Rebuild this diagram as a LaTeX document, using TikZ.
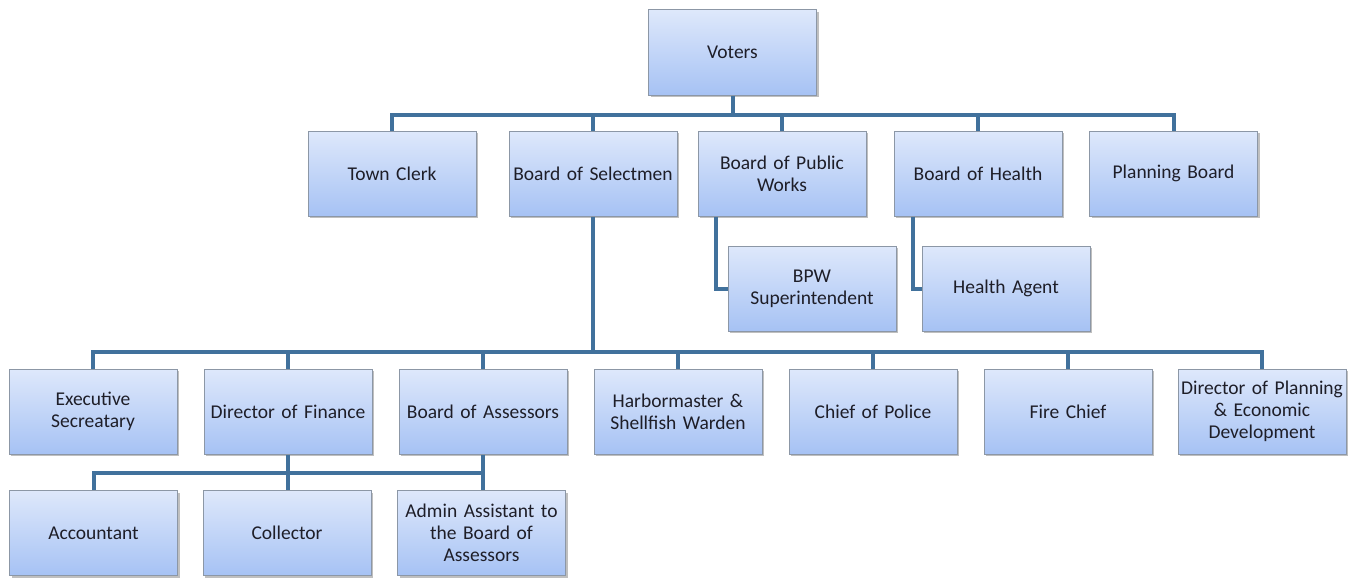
\documentclass[tikz,border=0pt]{standalone}
\usepackage{fontspec}
\setmainfont{Carlito}
\usetikzlibrary{shadows}
\definecolor{linec}{HTML}{41719C}
\definecolor{boxtop}{HTML}{DEE8FB}
\definecolor{boxbot}{HTML}{A6C2F4}
\definecolor{boxdraw}{HTML}{8C97A6}
\definecolor{txt}{HTML}{1E1E28}
\tikzset{
  orgbox/.style={draw=boxdraw, line width=1pt, top color=boxtop, bottom color=boxbot,
    minimum width=168pt, minimum height=85pt, inner sep=0pt, text width=168pt, align=center,
    text=txt, font=\fontsize{19.5}{22}\selectfont,
    drop shadow={shadow xshift=2pt, shadow yshift=-2pt, opacity=0.25, fill=black}},
  conn/.style={draw=linec, line width=4pt}
}
\begin{document}
\begin{tikzpicture}[x=1pt,y=-1pt]
\useasboundingbox (0,0) rectangle (1359,578);
% row 1
\node[orgbox] (vot) at (732.5,52.5) {Voters};
% row 2
\node[orgbox] (tc) at (392,173.5) {Town Clerk};
\node[orgbox] (sel) at (593,173.5) {Board of Selectmen};
\node[orgbox] (bpw) at (782,173.5) {Board of Public\\Works};
\node[orgbox] (boh) at (978,173.5) {Board of Health};
\node[orgbox] (pb) at (1173.5,173.5) {Planning Board};
% row 2b
\node[orgbox] (bpws) at (812,288.5) {BPW\\Superintendent};
\node[orgbox] (ha) at (1006,288.5) {Health Agent};
% row 3
\node[orgbox] (es) at (93,411.5) {Executive\\Secreatary};
\node[orgbox] (fin) at (288,411.5) {Director of Finance};
\node[orgbox] (ass) at (483,411.5) {Board of Assessors};
\node[orgbox] (hm) at (678,411.5) {Harbormaster \&\\Shellfish Warden};
\node[orgbox] (pol) at (873,411.5) {Chief of Police};
\node[orgbox] (fire) at (1068,411.5) {Fire Chief};
\node[orgbox] (dpe) at (1262,411.5) {Director of Planning\\\& Economic\\Development};
% row 4
\node[orgbox] (acc) at (93.5,533) {Accountant};
\node[orgbox] (col) at (287,533) {Collector};
\node[orgbox] (adm) at (481.5,533) {Admin Assistant to\\the Board of\\Assessors};
% connectors
\coordinate (b1) at (732.5,115);
\coordinate (b2) at (593,352);
\coordinate (b3) at (288,473);
\draw[conn] (vot.south) -- (b1) -| (tc.north);
\draw[conn] (b1) -| (sel.north);
\draw[conn] (b1) -| (bpw.north);
\draw[conn] (b1) -| (boh.north);
\draw[conn] (b1) -| (pb.north);
\draw[conn] ([xshift=18pt]bpw.south west) |- (bpws.west);
\draw[conn] ([xshift=19pt]boh.south west) |- (ha.west);
\draw[conn] (sel.south) -- (b2) -| (es.north);
\draw[conn] (b2) -| (fin.north);
\draw[conn] (b2) -| (ass.north);
\draw[conn] (b2) -| (hm.north);
\draw[conn] (b2) -| (pol.north);
\draw[conn] (b2) -| (fire.north);
\draw[conn] (b2) -| (dpe.north);
\draw[conn] (fin.south) -- (fin.south |- col.north);
\draw[conn] (ass.south) -- (ass.south |- adm.north);
\draw[conn] (acc.north) |- (b3) -- (b3 -| ass.south);
\end{tikzpicture}
\end{document}
